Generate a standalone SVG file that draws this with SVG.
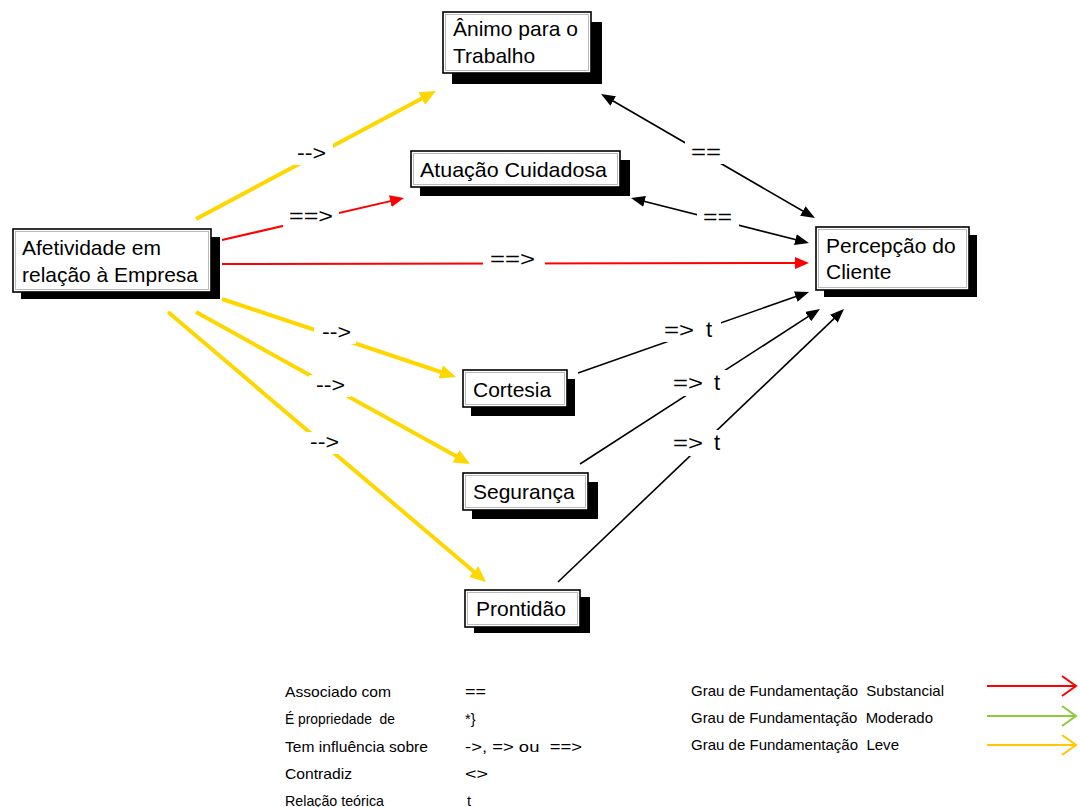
<svg xmlns="http://www.w3.org/2000/svg" width="1080" height="807" viewBox="0 0 1080 807">
<style>
.shadow{fill:#000}
.box{fill:#fff;stroke:#000;stroke-width:1.6}
.inner{fill:none;stroke:#aaa;stroke-width:0.8}
.nt{font-family:"Liberation Sans",Arial,sans-serif;font-size:21px;fill:#000}
.lbl{font-family:"Liberation Sans",Arial,sans-serif;font-size:21px;fill:#000}
.bg{fill:#fff}
.yl{fill:none;stroke:#FFD700;stroke-width:4}
.rd{fill:none;stroke:#FF0000;stroke-width:2}
.bk{fill:none;stroke:#000;stroke-width:1.6}
.lg{font-family:"Liberation Sans",Arial,sans-serif;font-size:14.5px;fill:#000;white-space:pre}
.la{fill:none;stroke-width:2}
</style>
<defs>
<marker id="mY" markerUnits="userSpaceOnUse" viewBox="0 0 16 14" markerWidth="16" markerHeight="14" refX="8" refY="7" orient="auto"><path d="M0,0 L16,7 L0,14 z" fill="#FFD700"/></marker>
<marker id="mR" markerUnits="userSpaceOnUse" viewBox="0 0 14 12" markerWidth="14" markerHeight="12" refX="9" refY="6" orient="auto"><path d="M0,0 L14,6 L0,12 z" fill="#FF0000"/></marker>
<marker id="mB" markerUnits="userSpaceOnUse" viewBox="0 0 14 11" markerWidth="14" markerHeight="11" refX="10" refY="5.5" orient="auto-start-reverse"><path d="M0,0 L14,5.5 L0,11 z" fill="#000"/></marker>
</defs>
<rect width="1080" height="807" fill="#fff"/>

<g id="connectors">
<line class="yl" x1="196" y1="219" x2="428.9" y2="94.8" marker-end="url(#mY)"/>
<line class="yl" x1="222" y1="299" x2="448.4" y2="374.5" marker-end="url(#mY)"/>
<line class="yl" x1="196" y1="312" x2="463" y2="460.1" marker-end="url(#mY)"/>
<line class="yl" x1="168" y1="312" x2="479.9" y2="576.8" marker-end="url(#mY)"/>
<line class="rd" x1="222" y1="240" x2="399.1" y2="199.1" marker-end="url(#mR)"/>
<line class="rd" x1="222" y1="264" x2="804" y2="263" marker-end="url(#mR)"/>
<line class="bk" x1="604.5" y1="96" x2="811.5" y2="216" marker-start="url(#mB)" marker-end="url(#mB)"/>
<line class="bk" x1="634.9" y1="199" x2="805.1" y2="242" marker-start="url(#mB)" marker-end="url(#mB)"/>
<line class="bk" x1="578" y1="373" x2="805.2" y2="293.3" marker-end="url(#mB)"/>
<line class="bk" x1="580" y1="464" x2="816.6" y2="311.2" marker-end="url(#mB)"/>
<line class="bk" x1="558" y1="582" x2="841.1" y2="311.8" marker-end="url(#mB)"/>
<rect class="bg" x="291" y="143" width="42" height="22"/>
<text class="lbl" x="297" y="160" textLength="29" lengthAdjust="spacingAndGlyphs">--&gt;</text>
<rect class="bg" x="283" y="206" width="56" height="22"/>
<text class="lbl" x="289" y="223" textLength="44" lengthAdjust="spacingAndGlyphs">==&gt;</text>
<rect class="bg" x="483" y="249" width="62" height="22"/>
<text class="lbl" x="490" y="266" textLength="45" lengthAdjust="spacingAndGlyphs">==&gt;</text>
<rect class="bg" x="685" y="142" width="42" height="22"/>
<text class="lbl" x="691" y="159" textLength="30" lengthAdjust="spacingAndGlyphs">==</text>
<rect class="bg" x="697" y="207" width="42" height="22"/>
<text class="lbl" x="703" y="224" textLength="29" lengthAdjust="spacingAndGlyphs">==</text>
<rect class="bg" x="659" y="316" width="62" height="26"/>
<text class="lbl" x="664" y="337"><tspan textLength="30" lengthAdjust="spacingAndGlyphs">=&gt;</tspan><tspan x="706" font-size="22">t</tspan></text>
<rect class="bg" x="668" y="370" width="62" height="26"/>
<text class="lbl" x="673" y="390"><tspan textLength="30" lengthAdjust="spacingAndGlyphs">=&gt;</tspan><tspan x="714" font-size="22">t</tspan></text>
<rect class="bg" x="668" y="430" width="62" height="26"/>
<text class="lbl" x="673" y="450"><tspan textLength="30" lengthAdjust="spacingAndGlyphs">=&gt;</tspan><tspan x="714" font-size="22">t</tspan></text>
<rect class="bg" x="314" y="322" width="42" height="22"/>
<text class="lbl" x="322" y="339" textLength="29" lengthAdjust="spacingAndGlyphs">--&gt;</text>
<rect class="bg" x="309" y="375" width="42" height="22"/>
<text class="lbl" x="316" y="392" textLength="29" lengthAdjust="spacingAndGlyphs">--&gt;</text>
<rect class="bg" x="303" y="432" width="42" height="22"/>
<text class="lbl" x="310" y="449" textLength="29" lengthAdjust="spacingAndGlyphs">--&gt;</text>
</g>

<g id="node-animo">
<rect class="shadow" x="452" y="22" width="150" height="62"/>
<rect class="box" x="443" y="12" width="148" height="61"/>
<rect class="inner" x="445.5" y="14.5" width="143" height="56"/>
<text class="nt" x="453" y="36">Ânimo para o</text>
<text class="nt" x="453" y="63">Trabalho</text>
</g>
<g id="node-atuacao">
<rect class="shadow" x="420" y="160" width="210" height="36"/>
<rect class="box" x="411" y="151" width="209" height="36"/>
<rect class="inner" x="413.5" y="153.5" width="204" height="31"/>
<text class="nt" x="420" y="177" textLength="187" lengthAdjust="spacingAndGlyphs">Atuação Cuidadosa</text>
</g>
<g id="node-afetividade">
<rect class="shadow" x="21" y="237" width="199" height="62"/>
<rect class="box" x="13" y="229" width="198" height="63"/>
<rect class="inner" x="15.5" y="231.5" width="193" height="58"/>
<text class="nt" x="22" y="255">Afetividade em</text>
<text class="nt" x="22" y="282" textLength="176" lengthAdjust="spacingAndGlyphs">relação à Empresa</text>
</g>
<g id="node-percepcao">
<rect class="shadow" x="824" y="235" width="153" height="62"/>
<rect class="box" x="816" y="227" width="153" height="63"/>
<rect class="inner" x="818.5" y="229.5" width="148" height="58"/>
<text class="nt" x="826" y="253">Percepção do</text>
<text class="nt" x="826" y="279">Cliente</text>
</g>
<g id="node-cortesia">
<rect class="shadow" x="471" y="379" width="104" height="37"/>
<rect class="box" x="463" y="370" width="104" height="37"/>
<rect class="inner" x="465.5" y="372.5" width="99" height="32"/>
<text class="nt" x="473" y="397">Cortesia</text>
</g>
<g id="node-seguranca">
<rect class="shadow" x="472" y="482" width="126" height="37"/>
<rect class="box" x="463" y="473" width="125" height="37"/>
<rect class="inner" x="465.5" y="475.5" width="120" height="32"/>
<text class="nt" x="473" y="499">Segurança</text>
</g>
<g id="node-prontidao">
<rect class="shadow" x="474" y="597" width="116" height="36"/>
<rect class="box" x="465" y="590" width="115" height="37"/>
<rect class="inner" x="467.5" y="592.5" width="110" height="32"/>
<text class="nt" x="476" y="616">Prontidão</text>
</g>

<g id="legend">
<text class="lg" x="285" y="697" textLength="106" lengthAdjust="spacingAndGlyphs">Associado com</text>
<text class="lg" x="285" y="724" textLength="110" lengthAdjust="spacingAndGlyphs">É propriedade  de</text>
<text class="lg" x="285" y="752" textLength="143" lengthAdjust="spacingAndGlyphs">Tem influência sobre</text>
<text class="lg" x="285" y="779" textLength="67" lengthAdjust="spacingAndGlyphs">Contradiz</text>
<text class="lg" x="285" y="806" textLength="99" lengthAdjust="spacingAndGlyphs">Relação teórica</text>
<text class="lg" x="465" y="697" textLength="21" lengthAdjust="spacingAndGlyphs">==</text>
<text class="lg" x="465" y="724">*}</text>
<text class="lg" x="465" y="752" textLength="117" lengthAdjust="spacingAndGlyphs">-&gt;, =&gt; ou  ==&gt;</text>
<text class="lg" x="465" y="779" textLength="23" lengthAdjust="spacingAndGlyphs">&lt;&gt;</text>
<text class="lg" x="467" y="806">t</text>
<text class="lg" x="691" y="696" textLength="253" lengthAdjust="spacingAndGlyphs">Grau de Fundamentação  Substancial</text>
<text class="lg" x="691" y="723" textLength="242" lengthAdjust="spacingAndGlyphs">Grau de Fundamentação  Moderado</text>
<text class="lg" x="691" y="750" textLength="208" lengthAdjust="spacingAndGlyphs">Grau de Fundamentação  Leve</text>
<path class="la" stroke="#FF0000" d="M987,686 H1076 M1062,676 L1076,686 L1062,696"/>
<path class="la" stroke="#8CCB3C" d="M987,716 H1076 M1062,706 L1076,716 L1062,726"/>
<path class="la" stroke="#FFC800" d="M987,745 H1076 M1062,735 L1076,745 L1062,755"/>
</g>
</svg>
